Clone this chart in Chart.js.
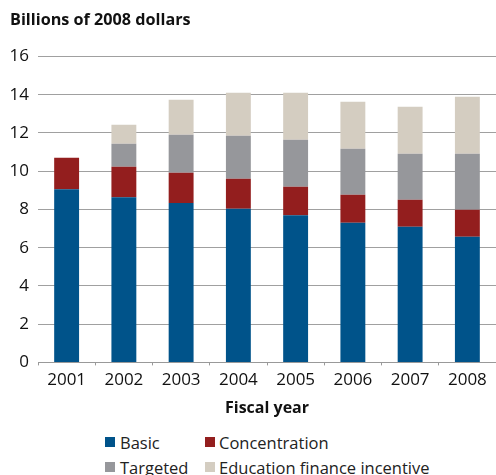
<!DOCTYPE html>
<html>
<head>
<meta charset="utf-8">
<script src="https://cdn.jsdelivr.net/npm/chart.js@4/dist/chart.umd.min.js"></script>
<style>
  html, body { margin: 0; padding: 0; background: #fff; }
  #wrap { position: relative; width: 496px; height: 475px; }
  #c { position: absolute; left: 0; top: 0; }
  #legend { position: absolute; left: 105px; top: 430px; font-family: "Open Sans", sans-serif; font-size: 16.5px; color: #222;
    display: grid; grid-template-columns: 100px auto; row-gap: 1px; }
  .it { display: flex; align-items: center; white-space: nowrap; height: 24px; }
  .sw { width: 10px; height: 10px; margin-right: 5px; display: inline-block; }
  .it.c2 .sw { margin-right: 4px; }
</style>
</head>
<body>
<div id="wrap">
  <canvas id="c" width="496" height="422"></canvas>
  <div id="legend"></div>
</div>
<script>
const categories = ["2001","2002","2003","2004","2005","2006","2007","2008"];
const basic = [9.05, 8.63, 8.33, 8.03, 7.69, 7.30, 7.09, 6.57];
const concentration = [1.65, 1.60, 1.59, 1.57, 1.50, 1.47, 1.42, 1.41];
const targeted = [0, 1.20, 1.98, 2.25, 2.45, 2.40, 2.40, 2.93];
const efi = [0, 1.00, 1.83, 2.25, 2.46, 2.46, 2.46, 2.98];
const seriesNames = ["Basic", "Concentration", "Targeted", "Education finance incentive"];
const colors = ["#00538a", "#931e1e", "#96979b", "#d4cdc1"];
const yTicks = [0, 2, 4, 6, 8, 10, 12, 14, 16];

const seriesData = [basic, concentration, targeted, efi];
const datasets = seriesNames.map((n, i) => ({
  label: n, data: seriesData[i], backgroundColor: colors[i],
  borderWidth: 0, categoryPercentage: 1.0, barPercentage: 0.435
}));

const font = { family: "'Open Sans', sans-serif", size: 17 };
new Chart(document.getElementById('c'), {
  type: 'bar',
  data: { labels: categories, datasets },
  options: {
    responsive: false, animation: false,
    layout: { padding: { left: 10, right: 0, top: 0, bottom: 0 } },
    plugins: {
      legend: { display: false },
      tooltip: { enabled: false },
      title: { display: true, text: "Billions of 2008 dollars", align: 'start', color: '#111',
        font: { family: "'Open Sans', sans-serif", size: 16.2, weight: 'bold' }, padding: { top: 11, bottom: 26 } }
    },
    scales: {
      x: {
        stacked: true, offset: true,
        border: { display: true, color: '#999', width: 1 },
        grid: { display: true, drawOnChartArea: false, offset: true, tickLength: 3, color: '#999' },
        ticks: { color: '#111', font, padding: 5 },
        title: { display: true, text: "Fiscal year", color: '#111', font: { family: "'Open Sans', sans-serif", size: 16, weight: 'bold' }, padding: { top: 3 } }
      },
      y: {
        stacked: true, min: 0, max: 16,
        afterBuildTicks: (s) => { s.ticks = yTicks.map(v => ({ value: v })); },
        afterFit: (s) => { s.width = 28; },
        border: { display: false },
        grid: { color: '#a0a0a0', lineWidth: 1, drawTicks: false },
        ticks: { color: '#111', font, padding: 9 }
      }
    }
  }
});

const lg = document.getElementById('legend');
[0, 1, 2, 3].forEach(i => {
  const d = document.createElement('div');
  d.className = 'it' + (i % 2 ? ' c2' : '');
  d.innerHTML = '<span class="sw" style="background:' + colors[i] + '"></span><span>' + seriesNames[i] + '</span>';
  lg.appendChild(d);
});
</script>
</body>
</html>
